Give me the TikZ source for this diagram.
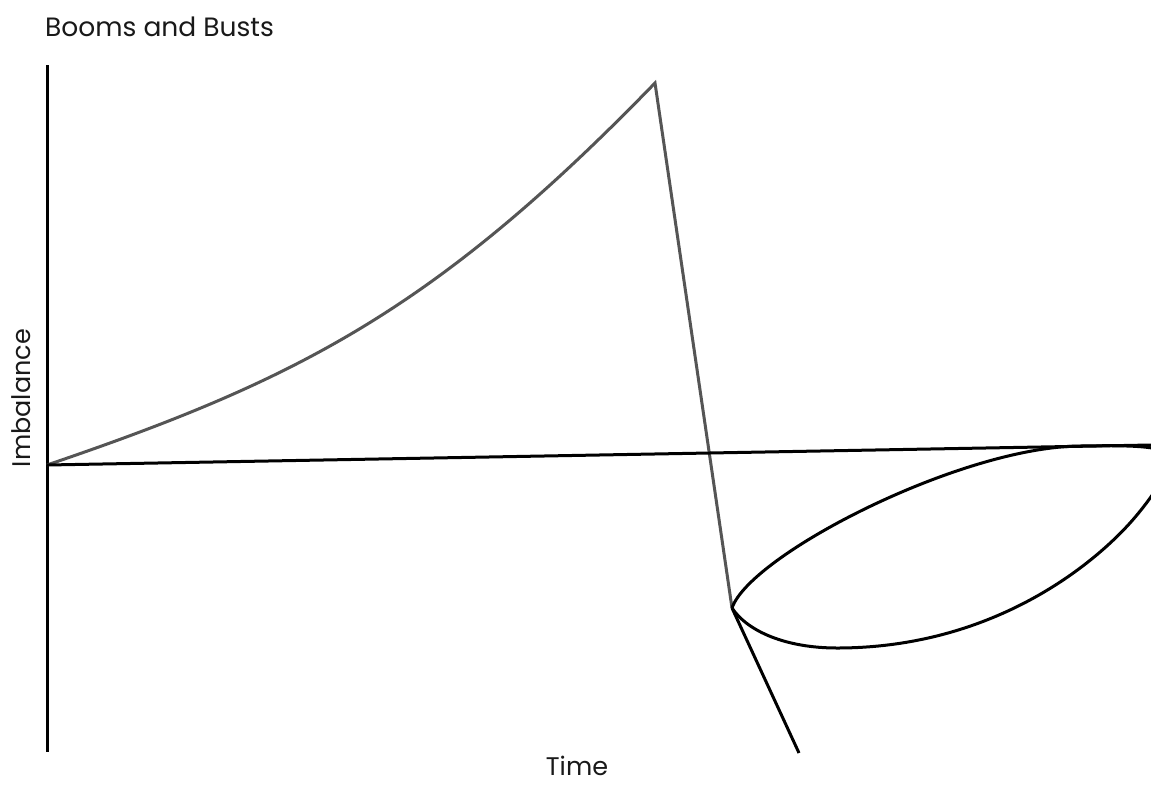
\documentclass[tikz,border=0pt]{standalone}
\usepackage{fontspec}
\setmainfont{Poppins}
\definecolor{curvegray}{RGB}{85,85,85}
\definecolor{textcol}{RGB}{25,25,25}
\begin{document}
\begin{tikzpicture}[x=1pt,y=-1pt,
  axisline/.style={line width=3pt,black},
  boomline/.style={line width=3pt,curvegray,line join=miter},
  blackline/.style={line width=3pt,black,line join=round},
  lbl/.style={text=textcol,inner sep=0pt,font=\fontsize{25.5}{30}\selectfont}]
\useasboundingbox (0,0) rectangle (1151,801);
\fill[white] (0,0) rectangle (1151,801);
\clip (0,0) rectangle (1151,801);
% coordinates
\coordinate (axtop) at (47,65);
\coordinate (axbot) at (47,752);
\coordinate (origin) at (47,465);
\coordinate (trend) at (1151,445);
\coordinate (peak) at (655,83);
\coordinate (trough) at (732,608);
\coordinate (crash) at (799,753);
\coordinate (top) at (1080,446);
\coordinate (right) at (1170,462);
\coordinate (mid) at (1130,523);
\coordinate (bottom) at (837,648);
% labels
\node[lbl,anchor=base west,font=\fontsize{26.5}{30}\selectfont] (title) at (45,36) {Booms and Busts};
\node[lbl,rotate=90] (ylab) at (21,398) {Imbalance};
\node[lbl] (xlab) at (577,766) {Time};
% axis
\draw[axisline] (axtop) -- (axbot);
% boom curve and bust
\draw[boomline] (origin) .. controls (297,380) and (435,310) .. (peak) -- (trough);
% trend line
\draw[blackline] (origin) -- (trend);
% loop
\draw[blackline] (trough) .. controls (750,555) and (960,447) .. (top)
  .. controls (1140,445) and (1175,446) .. (right)
  .. controls (1165,480) and (1143.4,508.2) .. (mid)
  .. controls (1090,567.4) and (990,648) .. (bottom)
  .. controls (787,648) and (748,632) .. (trough);
% crash line
\draw[blackline] (trough) -- (crash);
\end{tikzpicture}
\end{document}
